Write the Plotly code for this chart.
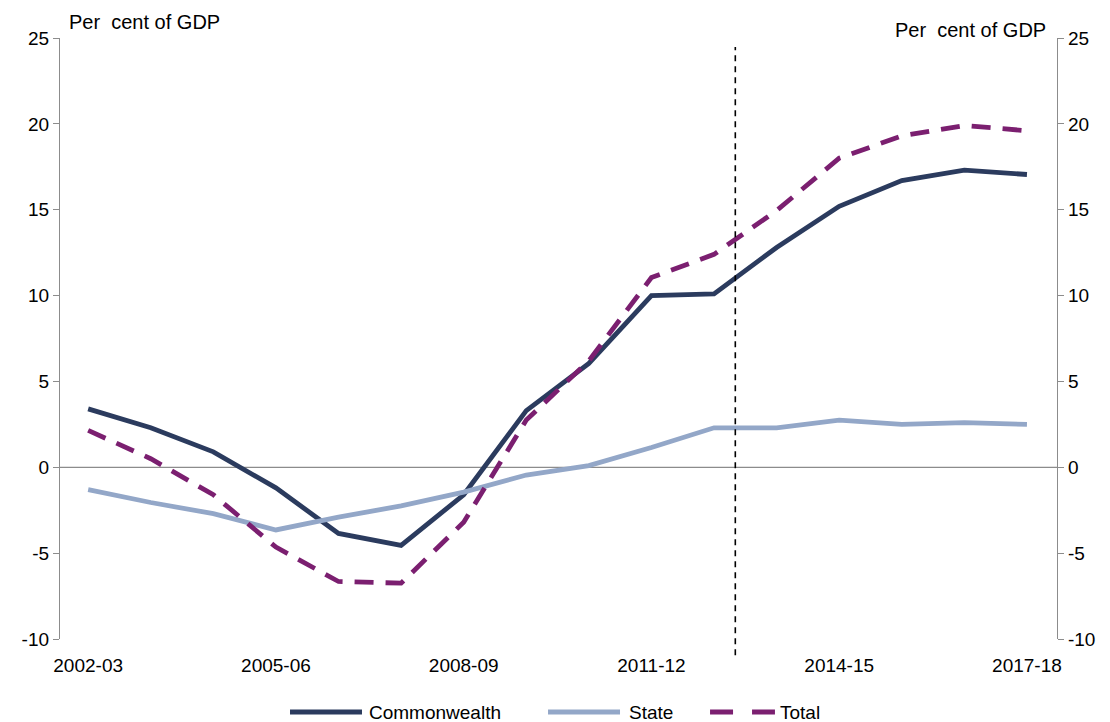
import plotly.graph_objects as go

years = ["2002-03", "2003-04", "2004-05", "2005-06", "2006-07", "2007-08", "2008-09",
         "2009-10", "2010-11", "2011-12", "2012-13", "2013-14", "2014-15", "2015-16",
         "2016-17", "2017-18"]
commonwealth = [3.4, 2.3, 0.9, -1.2, -3.85, -4.55, -1.6, 3.3, 6.05, 10.0, 10.1, 12.8,
                15.2, 16.7, 17.3, 17.05]
state = [-1.3, -2.05, -2.7, -3.65, -2.9, -2.25, -1.45, -0.45, 0.1, 1.15, 2.3, 2.3,
         2.75, 2.5, 2.6, 2.5]
total = [2.15, 0.5, -1.6, -4.65, -6.65, -6.75, -3.2, 2.75, 6.2, 11.05, 12.4, 14.95,
         18.0, 19.3, 19.9, 19.6]
tick_labels = ["2002-03", "2005-06", "2008-09", "2011-12", "2014-15", "2017-18"]
y_ticks = [-10, -5, 0, 5, 10, 15, 20, 25]
y_tick_text = ["-10", "-5", "0", "5", "10", "15", "20", "25"]
forecast_divider = 10.34  # position between 2012-13 and 2013-14

xs = list(range(len(years)))
tick_pos = [years.index(t) for t in tick_labels]

FONT = "Liberation Sans, Arial, sans-serif"
FS = 19
C_COMM = "#2B3B5E"
C_STATE = "#93A7C8"
C_TOTAL = "#7B1F70"
TOTAL_DASH = "19px,12px"

fig = go.Figure()
fig.add_trace(go.Scatter(x=xs, y=commonwealth, name="Commonwealth", mode="lines",
                         line=dict(color=C_COMM, width=4.8)))
fig.add_trace(go.Scatter(x=xs, y=state, name="State", mode="lines",
                         line=dict(color=C_STATE, width=4.8)))
fig.add_trace(go.Scatter(x=xs, y=total, name="Total", mode="lines",
                         line=dict(color=C_TOTAL, width=4.8, dash=TOTAL_DASH)))
# invisible trace to activate right axis
fig.add_trace(go.Scatter(x=[xs[0]], y=[0], yaxis="y2", showlegend=False,
                         mode="markers", marker=dict(opacity=0), hoverinfo="skip"))

# zero line
fig.add_shape(type="line", xref="paper", yref="y", x0=0, x1=1, y0=0, y1=0,
              line=dict(color="#8C8C8C", width=1.3), layer="below")
# forecast divider
fig.add_shape(type="line", xref="x", yref="paper", x0=forecast_divider, x1=forecast_divider,
              y0=-0.027, y1=0.985, line=dict(color="black", width=1.6, dash="6px,5px"))

# axis unit labels
fig.add_annotation(text="Per  cent of GDP", xref="paper", yref="paper", x=0.007, y=1.0,
                   xanchor="left", yanchor="middle", yshift=16, showarrow=False,
                   font=dict(family=FONT, size=20, color="black"))
fig.add_annotation(text="Per  cent of GDP", xref="paper", yref="paper", x=0.991, y=1.0,
                   xanchor="right", yanchor="middle", yshift=8, showarrow=False,
                   font=dict(family=FONT, size=20, color="black"))

# custom legend (long line samples as in the original)
legend_items = [
    ("Commonwealth", C_COMM, "solid", 0.2307, 0.3029, 0.3079),
    ("State", C_STATE, "solid", 0.4895, 0.5617, 0.5687),
    ("Total", C_TOTAL, "23px,19px", 0.6520, 0.7171, 0.7202),
]
LEG_Y = -0.1215
for name, color, dash, xa, xb, xt in legend_items:
    fig.add_shape(type="line", xref="paper", yref="paper", x0=xa, x1=xb, y0=LEG_Y, y1=LEG_Y,
                  line=dict(color=color, width=5, dash=dash))
    fig.add_annotation(text=name, xref="paper", yref="paper", x=xt, y=LEG_Y,
                       xanchor="left", yanchor="middle", showarrow=False,
                       font=dict(family=FONT, size=FS, color="black"))

axis_common = dict(range=[-10, 25], tickvals=y_ticks, ticktext=y_tick_text,
                   showgrid=False, zeroline=False, automargin=False,
                   showline=True, linecolor="#8C8C8C", linewidth=1.3,
                   ticks="outside", ticklen=6, tickcolor="#8C8C8C",
                   tickfont=dict(family=FONT, size=FS, color="black"))

fig.update_layout(
    width=1102, height=714,
    margin=dict(l=52, r=53, t=30, b=83, autoexpand=False),
    paper_bgcolor="white", plot_bgcolor="white",
    font=dict(family=FONT, size=FS, color="black"),
    xaxis=dict(range=[-0.45, 15.48], tickvals=tick_pos, ticktext=tick_labels,
               showgrid=False, zeroline=False, showline=False, ticks="",
               automargin=False, ticklabelstandoff=13,
               tickfont=dict(family=FONT, size=FS, color="black")),
    yaxis=dict(**axis_common, side="left"),
    yaxis2=dict(**axis_common, side="right", overlaying="y"),
    showlegend=False,
)

fig.write_html("out.html")
